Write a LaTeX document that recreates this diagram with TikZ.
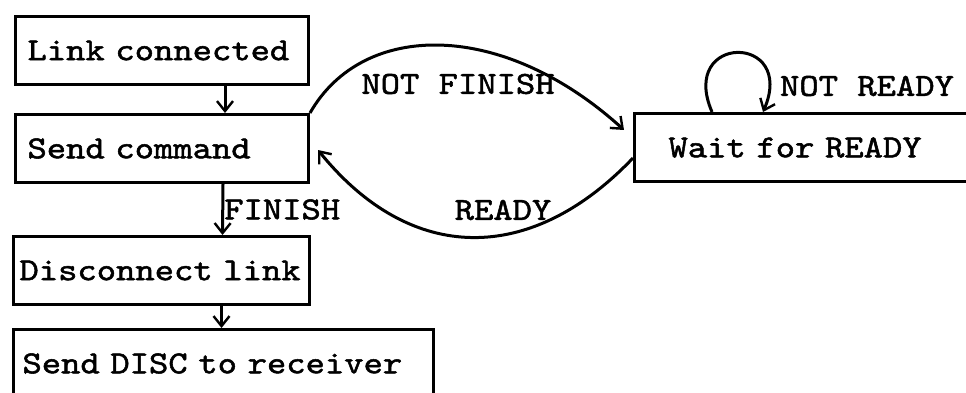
\documentclass[tikz,border=0pt]{standalone}
\usepackage{fontspec}
\usepackage{tikz}
\usetikzlibrary{arrows,arrows.meta,positioning}
\newfontfamily\statefont[FakeBold=1.6,FakeStretch=1.15]{lmmono10-regular.otf}

\begin{document}
\begin{tikzpicture}[x=1pt, y=-1pt, line width=3pt,
		>={Straight Barb[length=10pt,width=16pt,line width=2.4pt]},
		every node/.style={font=\statefont\fontsize{32}{32}\selectfont},
		statebox/.style={draw, anchor=north west, minimum height=68pt, align=left}]
	\useasboundingbox (0,0) rectangle (966,393);
	% states
	\node [statebox, inner xsep=12pt, text width=269pt] (link) at (14,15) {Link connected};
	\node [statebox, inner xsep=12pt, text width=269pt] (send) at (14,113) {Send command};
	\node [statebox, inner xsep=6pt, text width=284pt] (disc) at (12,235) {Disconnect link};
	\node [statebox, inner xsep=9pt, text width=402pt] (tell) at (12,328) {Send DISC to receiver};
	\node [statebox, inner xsep=34pt, text width=290pt] (wait) at (633,112) {Wait for READY};
	% straight transitions
	\draw [->] ([xshift=63pt]link.south) -- ([xshift=63pt]send.north);
	\draw [->] ([xshift=61pt]send.south) -- ([xshift=61pt]disc.north)
		node [midway, right, inner sep=0pt] {FINISH};
	\draw [->] ([xshift=60pt]disc.south) -- ([xshift=60pt]disc.south |- tell.north);
	% arcs between send and wait
	\draw [->] (send.north east) .. controls +(53,-93) and +(-121,-110) .. ([xshift=-9pt,yshift=-18pt]wait.north west);
	\node (nf) at (458,84) {NOT FINISH};
	\draw [->] ([yshift=-46pt]wait.north west) .. controls +(-102,107) and +(93,115) .. ([xshift=8pt,yshift=-37pt]send.north east);
	\node (rd) at (503,210) {READY};
	% self loop
	\draw [->] ([xshift=79pt]wait.north west) .. controls +(-34,-79) and +(34,-79) .. ([xshift=130pt]wait.north west);
	\node (nr) at (867,86) {NOT READY};
\end{tikzpicture}
\end{document}
